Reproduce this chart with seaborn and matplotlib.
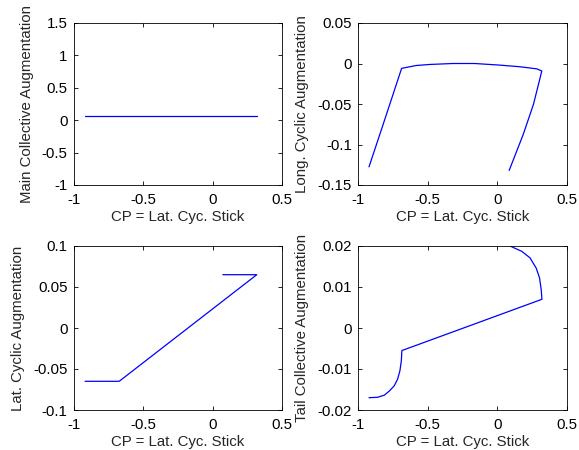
import matplotlib
matplotlib.use("Agg")
import matplotlib.pyplot as plt
import seaborn as sns
import pandas as pd
from matplotlib.ticker import FuncFormatter, MultipleLocator

# ---- data ----
main_x = [-0.92, 0.32]
main_y = [0.068, 0.068]

long_x = [-0.921, -0.824, -0.687, -0.583, -0.487, -0.319, -0.163, 0.018, 0.162, 0.283, 0.319,
          0.307, 0.259, 0.186, 0.085]
long_y = [-0.1276, -0.0775, -0.0060, -0.0025, -0.0012, 0.0, 0.0, -0.002, -0.004, -0.0066, -0.0092,
          -0.0177, -0.0506, -0.0875, -0.132]

lat_x = [-0.92, -0.674, 0.318, 0.073]
lat_y = [-0.065, -0.065, 0.065, 0.065]

tail_x = [-0.921, -0.860, -0.812, -0.776, -0.740, -0.716, -0.699, -0.689, -0.685,
          0.320, 0.315, 0.303, 0.279, 0.235, 0.175, 0.091]
tail_y = [-0.0170, -0.0169, -0.0164, -0.0154, -0.0141, -0.0125, -0.0104, -0.0080, -0.0055,
          0.0070, 0.0093, 0.0122, 0.0146, 0.0171, 0.0187, 0.0200]

xlabel = "CP = Lat. Cyc. Stick"
ylabels = ["Main Collective Augmentation", "Long. Cyclic Augmentation",
           "Lat. Cyclic Augmentation", "Tail Collective Augmentation"]
ylims = [(-1, 1.5), (-0.15, 0.05), (-0.1, 0.1), (-0.02, 0.02)]
ysteps = [0.5, 0.05, 0.05, 0.01]

sns.set_style("ticks")
plt.rcParams['font.family'] = ['Liberation Sans', 'DejaVu Sans']
plt.rcParams['axes.unicode_minus'] = False

fig = plt.figure(figsize=(5.79, 4.5), dpi=100)
W, H = 579, 450
boxes = [(74, 23, 282, 185), (358, 23, 567, 185), (74, 246, 282, 410), (358, 246, 567, 410)]
series = [(main_x, main_y), (long_x, long_y), (lat_x, lat_y), (tail_x, tail_y)]

fmt = FuncFormatter(lambda v, p: ("%g" % round(v, 6)))
FS = 10.8

for i, ((l, t, r, b), (xs, ys)) in enumerate(zip(boxes, series)):
    ax = fig.add_axes([l / W, 1 - b / H, (r - l) / W, (b - t) / H])
    df = pd.DataFrame({"x": xs, "y": ys})
    sns.lineplot(data=df, x="x", y="y", sort=False, estimator=None, ax=ax,
                 color=(0, 0, 1), linewidth=0.9)
    ax.set_xlim(-1, 0.5)
    ax.set_ylim(*ylims[i])
    ax.xaxis.set_major_locator(MultipleLocator(0.5))
    ax.yaxis.set_major_locator(MultipleLocator(ysteps[i]))
    ax.xaxis.set_major_formatter(fmt)
    ax.yaxis.set_major_formatter(fmt)
    ax.tick_params(direction="in", length=3, width=0.6, top=True, right=True,
                   labelsize=FS, colors="black")
    ax.tick_params(axis="x", pad=6)
    ax.tick_params(axis="y", pad=4.5)
    for s in ax.spines.values():
        s.set_visible(True)
        s.set_linewidth(0.6)
        s.set_color("black")
    ax.set_xlabel(xlabel, fontsize=FS, labelpad=2)
    ax.set_ylabel(ylabels[i], fontsize=FS, labelpad=6)

fig.savefig("out.png", dpi=100, facecolor="white")
